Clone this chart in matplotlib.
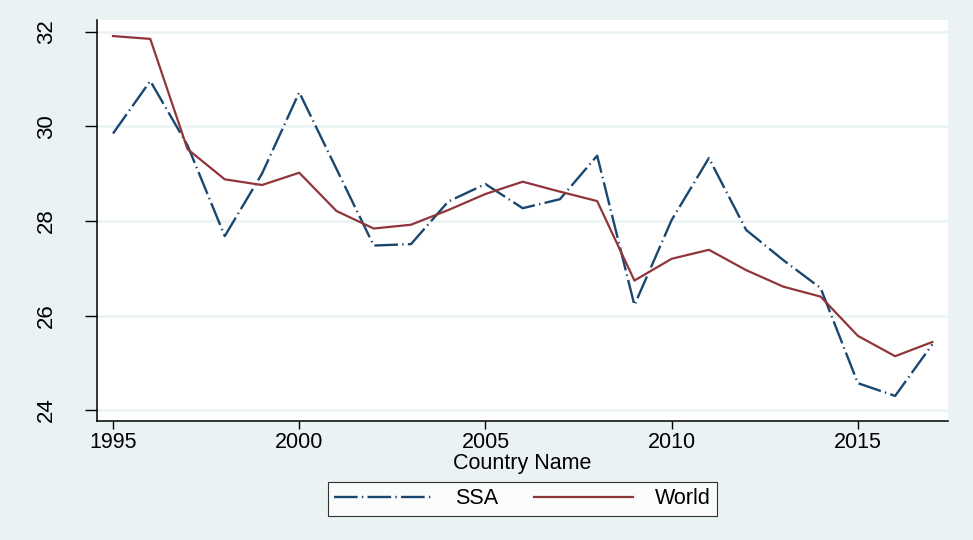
import matplotlib.pyplot as plt

plt.rcParams['font.family'] = ['Liberation Sans', 'DejaVu Sans']

years = list(range(1995, 2018))
ssa = [29.85, 30.96, 29.6, 27.68, 29.0, 30.72, 29.1, 27.48, 27.51, 28.41, 28.78, 28.27,
       28.46, 29.38, 26.22, 28.02, 29.33, 27.81, 27.17, 26.58, 24.57, 24.30, 25.39]
world = [31.91, 31.85, 29.52, 28.88, 28.76, 29.02, 28.21, 27.84, 27.92, 28.23, 28.57, 28.83,
         28.62, 28.42, 26.74, 27.2, 27.39, 26.96, 26.61, 26.40, 25.57, 25.14, 25.44]
yticks = [24, 26, 28, 30, 32]
xticks = [1995, 2000, 2005, 2010, 2015]

bg = '#eaf2f3'
fig = plt.figure(figsize=(9.73, 5.4), dpi=100, facecolor=bg)
ax = fig.add_axes([0.0997, 0.2204, 0.8746, 0.7426])
ax.set_facecolor('white')

for y in yticks:
    ax.axhline(y, color=bg, lw=1.8, zorder=0)

ax.plot(years, ssa, color='#1a476f', lw=1.7, linestyle=(0, (10, 1.8, 0.6, 1.8)), label='SSA')
ax.plot(years, world, color='#90353b', lw=1.6, label='World')

ax.set_xlim(1994.57, 2017.42)
ax.set_ylim(23.77, 32.25)
ax.set_xticks(xticks)
ax.set_yticks(yticks)
ax.set_yticklabels([str(v) for v in yticks], rotation=90, va='center')
ax.tick_params(axis='y', length=9, width=1, labelsize=16, pad=20)
ax.tick_params(axis='x', length=6, width=1, labelsize=15.5, pad=2)

for s in ['top', 'right']:
    ax.spines[s].set_visible(False)
for s in ['left', 'bottom']:
    ax.spines[s].set_linewidth(1.1)

ax.set_xlabel('Country Name', fontsize=15.5, labelpad=0)

leg = ax.legend(loc='upper center', bbox_to_anchor=(0.5, -0.125), ncol=2, frameon=True,
                fancybox=False, edgecolor='black', fontsize=15.5, handlelength=4.6,
                columnspacing=1.7, handletextpad=1.0, borderpad=0.3)
leg.get_frame().set_linewidth(0.8)

fig.savefig('out.png', dpi=100, facecolor=bg)
